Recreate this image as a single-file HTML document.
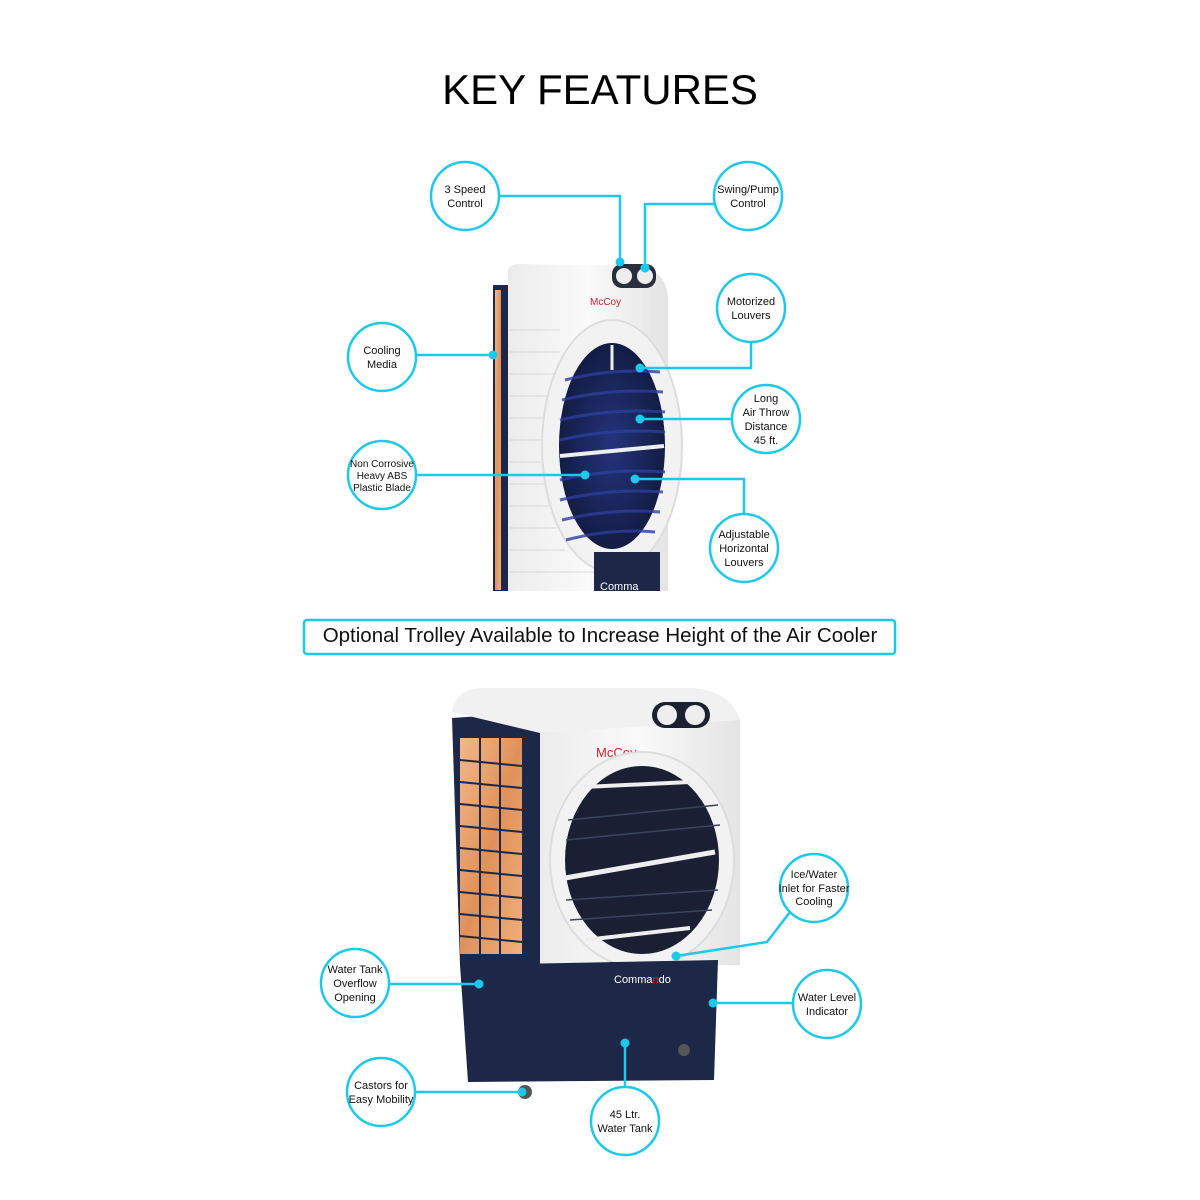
<!DOCTYPE html>
<html><head><meta charset="utf-8"><style>
html,body{margin:0;padding:0;background:#fff;}
svg{display:block}
text{font-family:"Liberation Sans",sans-serif;}
</style></head><body>
<svg width="1200" height="1200" viewBox="0 0 1200 1200" xmlns="http://www.w3.org/2000/svg">
<defs>
<linearGradient id="org" x1="0" y1="0" x2="1" y2="1">
<stop offset="0" stop-color="#f3b889"/><stop offset="0.5" stop-color="#e0915a"/><stop offset="1" stop-color="#f0b07e"/></linearGradient>
<linearGradient id="wh" x1="0" y1="0" x2="1" y2="0">
<stop offset="0" stop-color="#ececec"/><stop offset="0.5" stop-color="#fafafa"/><stop offset="1" stop-color="#e4e4e4"/></linearGradient>
<radialGradient id="blu" cx="0.5" cy="0.5" r="0.6"><stop offset="0" stop-color="#24337e"/><stop offset="1" stop-color="#101838"/></radialGradient>
</defs>
<text x="600" y="104" font-size="42" text-anchor="middle" fill="#000">KEY FEATURES</text>

<!-- TOP COOLER -->
<rect x="493" y="285" width="18" height="306" fill="#1d2748"/>
<rect x="495" y="290" width="6" height="300" fill="url(#org)"/>
<path d="M508 270 Q510 264 520 264 L640 266 Q668 272 668 300 L668 591 L508 591 Z" fill="url(#wh)"/>
<g stroke="#d8d8d8" stroke-width="1">
<line x1="510" y1="330" x2="560" y2="330"/><line x1="510" y1="352" x2="560" y2="352"/><line x1="510" y1="374" x2="555" y2="374"/><line x1="510" y1="396" x2="552" y2="396"/><line x1="510" y1="418" x2="550" y2="418"/><line x1="510" y1="440" x2="550" y2="440"/><line x1="510" y1="462" x2="550" y2="462"/><line x1="510" y1="484" x2="550" y2="484"/><line x1="510" y1="506" x2="552" y2="506"/><line x1="510" y1="528" x2="556" y2="528"/><line x1="510" y1="550" x2="565" y2="550"/><line x1="510" y1="572" x2="600" y2="572"/></g>
<rect x="612" y="264" width="44" height="24" rx="10" fill="#2a2f3e"/>
<circle cx="624" cy="276" r="8" fill="#eee"/><circle cx="645" cy="276" r="8" fill="#eee"/>
<text x="590" y="305" font-size="10" font-family="Liberation Serif" fill="#c0282e">McCoy</text>
<ellipse cx="612" cy="446" rx="70" ry="126" fill="#f2f2f2" stroke="#ddd" stroke-width="2"/>
<ellipse cx="612" cy="446" rx="53" ry="103" fill="url(#blu)"/>
<g stroke="#2c3f9c" stroke-width="3" fill="none" opacity="0.8">
<path d="M565 380 Q612 368 660 372"/><path d="M562 400 Q612 388 663 392"/><path d="M560 420 Q612 408 665 412"/><path d="M560 440 Q612 428 665 432"/><path d="M560 480 Q612 468 665 472"/><path d="M560 500 Q612 488 663 492"/><path d="M562 520 Q612 508 660 512"/><path d="M566 540 Q612 528 655 532"/></g>
<line x1="560" y1="456" x2="664" y2="446" stroke="#eee" stroke-width="4"/>
<line x1="612" y1="345" x2="612" y2="370" stroke="#eee" stroke-width="3"/>
<rect x="594" y="552" width="66" height="39" fill="#1d2748"/>
<text x="600" y="590" font-size="11" font-family="Liberation Serif" fill="#fff">Comma</text>

<!-- BOTTOM COOLER -->
<path d="M452 718 L540 712 L540 965 L460 965 Z" fill="#1d2748"/>
<rect x="460" y="738" width="62" height="216" fill="url(#org)"/>
<g stroke="#1d2748" stroke-width="2">
<line x1="480" y1="738" x2="480" y2="954"/><line x1="500" y1="738" x2="500" y2="954"/>
<line x1="460" y1="760" x2="522" y2="766"/><line x1="460" y1="782" x2="522" y2="788"/><line x1="460" y1="804" x2="522" y2="810"/><line x1="460" y1="826" x2="522" y2="832"/><line x1="460" y1="848" x2="522" y2="854"/><line x1="460" y1="870" x2="522" y2="876"/><line x1="460" y1="892" x2="522" y2="898"/><line x1="460" y1="914" x2="522" y2="920"/><line x1="460" y1="936" x2="522" y2="942"/></g>
<path d="M540 712 Q560 700 600 695 L690 688 Q730 690 740 720 L740 965 L540 965 Z" fill="url(#wh)"/>
<path d="M452 712 Q455 690 480 688 L690 688 Q730 690 740 720 L540 733 Z" fill="#f1f1f1"/>
<rect x="652" y="702" width="58" height="26" rx="13" fill="#1d2030"/>
<circle cx="667" cy="715" r="10" fill="#eee"/><circle cx="695" cy="715" r="10" fill="#eee"/>
<text x="596" y="757" font-size="13" font-family="Liberation Serif" fill="#c0282e">McCoy</text>
<ellipse cx="642" cy="860" rx="92" ry="108" fill="#f2f2f2" stroke="#ddd" stroke-width="2"/>
<ellipse cx="642" cy="860" rx="77" ry="94" fill="#1a1f33"/>
<g stroke="#3a4260" stroke-width="1.5">
<line x1="568" y1="820" x2="718" y2="805"/><line x1="566" y1="840" x2="720" y2="825"/><line x1="566" y1="900" x2="718" y2="890"/><line x1="570" y1="920" x2="712" y2="910"/></g>
<line x1="565" y1="878" x2="715" y2="852" stroke="#eee" stroke-width="5"/>
<line x1="584" y1="787" x2="690" y2="782" stroke="#eee" stroke-width="4"/>
<line x1="585" y1="940" x2="690" y2="928" stroke="#eee" stroke-width="4"/>
<path d="M460 965 L718 960 L714 1080 L468 1082 Z" fill="#1d2748"/>
<rect x="610" y="962" width="58" height="32" fill="#1d2748"/>
<text x="614" y="983" font-size="11" font-family="Liberation Serif" fill="#fff">Comma<tspan fill="#e22">n</tspan>do</text>
<circle cx="525" cy="1092" r="7" fill="#555"/><circle cx="684" cy="1050" r="6" fill="#555"/>

<!-- CALLOUT LINES -->
<g stroke="#1ec8ea" stroke-width="2.5" fill="none">
<polyline points="499,196 620,196 620,262"/>
<polyline points="714,204 645,204 645,268"/>
<polyline points="751,342 751,368 640,368"/>
<polyline points="416,355 493,355"/>
<polyline points="732,419 640,419"/>
<polyline points="416,475 585,475"/>
<polyline points="744,514 744,479 635,479"/>
<polyline points="790,912 767,942 676,956"/>
<polyline points="389,984 479,984"/>
<polyline points="793,1003 713,1003"/>
<polyline points="415,1092 522,1092"/>
<polyline points="625,1087 625,1043"/>
</g>
<g fill="#1ec8ea">
<circle cx="620" cy="262" r="4.5"/><circle cx="645" cy="268" r="4.5"/><circle cx="640" cy="368" r="4.5"/><circle cx="493" cy="355" r="4.5"/><circle cx="640" cy="419" r="4.5"/><circle cx="585" cy="475" r="4.5"/><circle cx="635" cy="479" r="4.5"/><circle cx="676" cy="956" r="4.5"/><circle cx="479" cy="984" r="4.5"/><circle cx="713" cy="1003" r="4.5"/><circle cx="522" cy="1092" r="4.5"/><circle cx="625" cy="1043" r="4.5"/>
</g>
<g stroke="#1ec8ea" stroke-width="2.5" fill="#fff">
<circle cx="465" cy="196" r="34"/><circle cx="748" cy="196" r="34"/><circle cx="751" cy="308" r="34"/><circle cx="382" cy="357" r="34"/><circle cx="766" cy="419" r="34"/><circle cx="382" cy="475" r="34"/><circle cx="744" cy="548" r="34"/><circle cx="814" cy="888" r="34"/><circle cx="355" cy="983" r="34"/><circle cx="827" cy="1004" r="34"/><circle cx="381" cy="1092" r="34"/><circle cx="625" cy="1121" r="34"/>
</g>
<g font-size="11" fill="#111" text-anchor="middle">
<text x="465" y="193">3 Speed</text><text x="465" y="207">Control</text>
<text x="748" y="193">Swing/Pump</text><text x="748" y="207">Control</text>
<text x="751" y="305">Motorized</text><text x="751" y="319">Louvers</text>
<text x="382" y="354">Cooling</text><text x="382" y="368">Media</text>
<text x="766" y="402">Long</text><text x="766" y="416">Air Throw</text><text x="766" y="430">Distance</text><text x="766" y="444">45 ft.</text>
<text x="382" y="467" font-size="10">Non Corrosive</text><text x="382" y="479" font-size="10">Heavy ABS</text><text x="382" y="491" font-size="10">Plastic Blade</text>
<text x="744" y="538">Adjustable</text><text x="744" y="552">Horizontal</text><text x="744" y="566">Louvers</text>
<text x="814" y="878">Ice/Water</text><text x="814" y="892">Inlet for Faster</text><text x="814" y="905">Cooling</text>
<text x="355" y="973">Water Tank</text><text x="355" y="987">Overflow</text><text x="355" y="1001">Opening</text>
<text x="827" y="1001">Water Level</text><text x="827" y="1015">Indicator</text>
<text x="381" y="1089">Castors for</text><text x="381" y="1103">Easy Mobility</text>
<text x="625" y="1118">45 Ltr.</text><text x="625" y="1132">Water Tank</text>
</g>

<rect x="304" y="620" width="591" height="34" rx="3" fill="#fff" stroke="#1ec8ea" stroke-width="2.5"/>
<text x="600" y="642" font-size="20.5" text-anchor="middle" fill="#111">Optional Trolley Available to Increase Height of the Air Cooler</text>
</svg>
</body></html>
